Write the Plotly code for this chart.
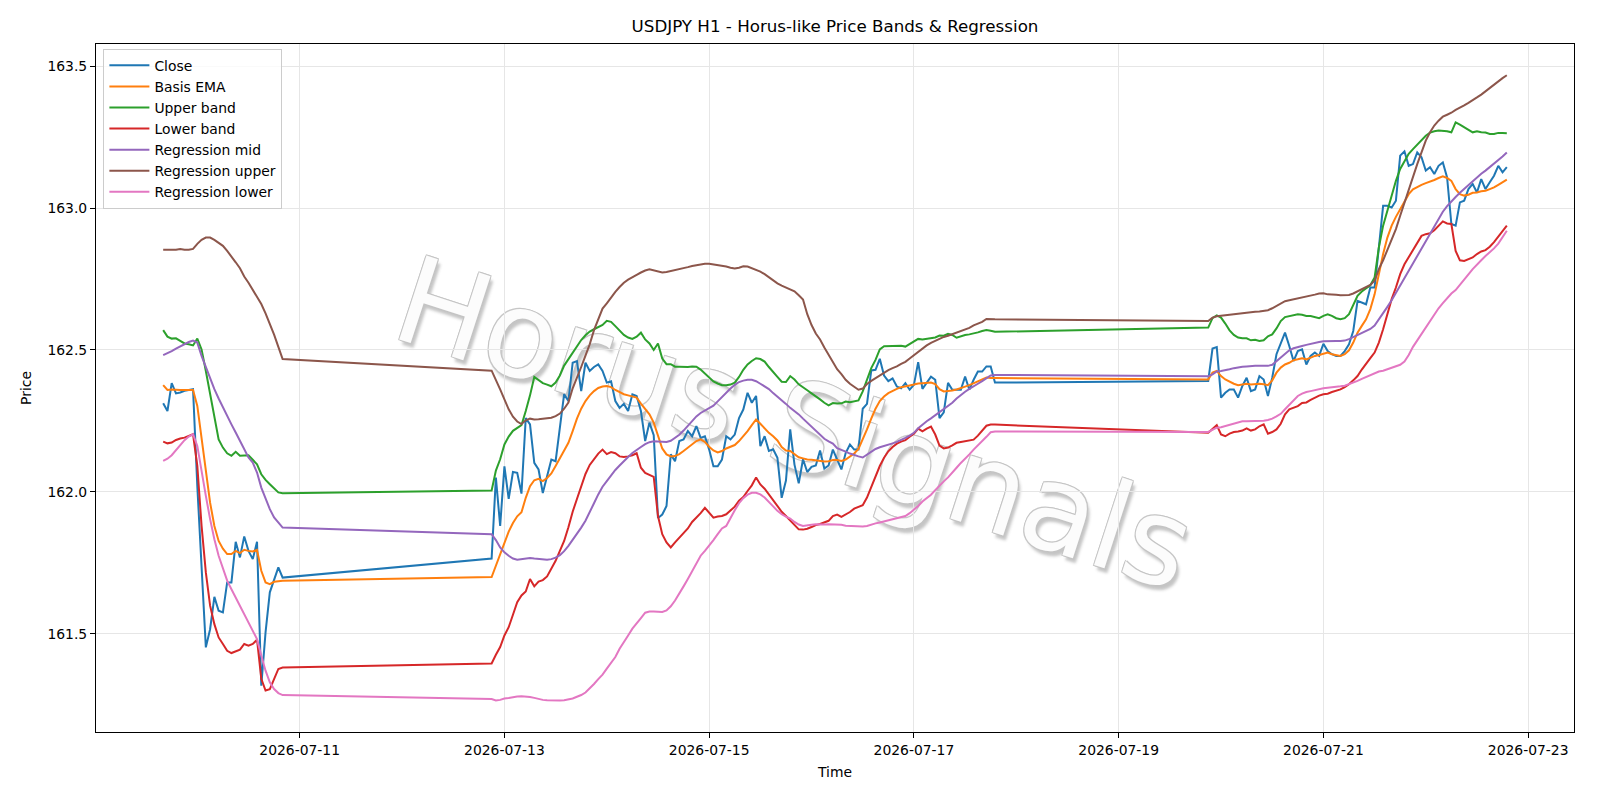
import pandas as pd
import plotly.graph_objects as go

# ---- time axis: three trading segments of hourly bars ----
seg_starts = ["2026-07-09 16:00", "2026-07-12 21:00", "2026-07-19 21:00"]
seg_lengths = [29, 119, 71]

# ---- Close ----
close_a = [162.312, 162.285, 162.383, 162.347, 162.350, 162.356, 162.359, 162.362, 162.020, 161.720,
           161.452, 161.516, 161.630, 161.581, 161.575, 161.681, 161.681, 161.824, 161.769, 161.843,
           161.792, 161.763, 161.824, 161.317, 161.505, 161.646, 161.692, 161.734, 161.698]
close_b = [161.765, 162.050, 161.880, 162.090, 161.975, 162.070, 162.067, 161.994, 162.260, 162.238,
           162.102, 162.079, 161.996, 162.055, 162.114, 162.108, 162.226, 162.344, 162.320, 162.455,
           162.461, 162.355, 162.455, 162.426, 162.440, 162.449, 162.426, 162.385, 162.390, 162.320,
           162.296, 162.310, 162.285, 162.344, 162.338, 162.285, 162.179, 162.244, 162.200, 161.908,
           161.920, 161.950, 162.132, 162.108, 162.179, 162.185, 162.214, 162.196, 162.232, 162.190,
           162.196, 162.149, 162.090, 162.090, 162.114, 162.196, 162.185, 162.202, 162.260, 162.290,
           162.349, 162.314, 162.338, 162.161, 162.196, 162.144, 162.150, 162.120, 161.979, 162.040,
           162.220, 162.096, 162.030, 162.115, 162.070, 162.088, 162.093, 162.146, 162.082, 162.093,
           162.149, 162.116, 162.079, 162.137, 162.167, 162.149, 162.149, 162.293, 162.310, 162.428,
           162.430, 162.469, 162.410, 162.390, 162.400, 162.371, 162.365, 162.383, 162.360, 162.377,
           162.457, 162.363, 162.383, 162.406, 162.395, 162.260, 162.280, 162.384, 162.360, 162.360,
           162.360, 162.406, 162.360, 162.395, 162.424, 162.424, 162.442, 162.442, 162.385]
close_c = [162.391, 162.505, 162.510, 162.332, 162.349, 162.361, 162.361, 162.332, 162.373, 162.402,
           162.355, 162.361, 162.408, 162.396, 162.338, 162.402, 162.485, 162.520, 162.561, 162.514,
           162.461, 162.496, 162.502, 162.449, 162.479, 162.491, 162.479, 162.522, 162.496, 162.485,
           162.479, 162.479, 162.496, 162.520, 162.567, 162.673, 162.667, 162.661, 162.720, 162.720,
           162.861, 163.008, 163.008, 163.002, 163.026, 163.185, 163.200, 163.149, 163.155, 163.196,
           163.179, 163.132, 163.144, 163.120, 163.149, 163.161, 163.108, 162.944, 162.938, 163.020,
           163.026, 163.067, 163.085, 163.055, 163.102, 163.067, 163.091, 163.114, 163.149, 163.126,
           163.144]

# ---- Basis EMA ----
ema_a = [162.376, 162.359, 162.361, 162.359, 162.359, 162.359, 162.360, 162.359, 162.303, 162.185,
         162.068, 161.962, 161.880, 161.827, 161.800, 161.781, 161.781, 161.792, 161.784, 161.796,
         161.792, 161.790, 161.796, 161.722, 161.681, 161.675, 161.683, 161.685, 161.687]
ema_b = [161.700, 161.740, 161.780, 161.820, 161.860, 161.890, 161.914, 161.928, 161.979, 162.020,
         162.041, 162.046, 162.038, 162.049, 162.065, 162.091, 162.120, 162.149, 162.173, 162.214,
         162.258, 162.293, 162.320, 162.340, 162.355, 162.366, 162.371, 162.373, 162.369, 162.359,
         162.352, 162.344, 162.340, 162.336, 162.332, 162.311, 162.294, 162.273, 162.244, 162.202,
         162.153, 162.132, 162.125, 162.126, 162.133, 162.144, 162.155, 162.166, 162.179, 162.185,
         162.176, 162.159, 162.146, 162.139, 162.144, 162.153, 162.158, 162.165, 162.179, 162.195,
         162.214, 162.235, 162.255, 162.240, 162.224, 162.208, 162.196, 162.181, 162.158, 162.146,
         162.144, 162.134, 162.122, 162.118, 162.114, 162.113, 162.111, 162.108, 162.107, 162.108,
         162.112, 162.112, 162.109, 162.114, 162.123, 162.135, 162.151, 162.183, 162.220, 162.258,
         162.293, 162.320, 162.336, 162.348, 162.357, 162.363, 162.369, 162.373, 162.375, 162.378,
         162.382, 162.383, 162.385, 162.385, 162.380, 162.362, 162.354, 162.355, 162.357, 162.361,
         162.365, 162.371, 162.376, 162.383, 162.390, 162.396, 162.403, 162.401, 162.401]
ema_c = [162.396, 162.420, 162.426, 162.408, 162.396, 162.388, 162.381, 162.376, 162.379, 162.381,
         162.378, 162.379, 162.381, 162.379, 162.376, 162.393, 162.420, 162.438, 162.449, 162.455,
         162.464, 162.467, 162.471, 162.467, 162.473, 162.479, 162.482, 162.487, 162.491, 162.485,
         162.481, 162.479, 162.485, 162.499, 162.526, 162.561, 162.585, 162.608, 162.644, 162.696,
         162.767, 162.838, 162.896, 162.938, 162.969, 162.996, 163.026, 163.049, 163.066, 163.075,
         163.082, 163.088, 163.093, 163.099, 163.106, 163.112, 163.106, 163.096, 163.067, 163.049,
         163.044, 163.047, 163.054, 163.055, 163.059, 163.061, 163.067, 163.073, 163.082, 163.091,
         163.100]

# ---- Upper band ----
upper_a = [162.570, 162.547, 162.540, 162.541, 162.532, 162.523, 162.520, 162.516, 162.540, 162.502,
           162.426, 162.344, 162.256, 162.185, 162.156, 162.136, 162.127, 162.141, 162.127, 162.127,
           162.129, 162.113, 162.097, 162.062, 162.042, 162.027, 162.012, 161.998, 161.995]
upper_b = [162.005, 162.075, 162.115, 162.167, 162.195, 162.215, 162.225, 162.235, 162.285, 162.340,
           162.405, 162.395, 162.383, 162.378, 162.372, 162.385, 162.410, 162.445, 162.468, 162.490,
           162.512, 162.535, 162.552, 162.565, 162.573, 162.580, 162.588, 162.603, 162.599, 162.584,
           162.570, 162.553, 162.544, 162.539, 162.547, 162.561, 162.537, 162.523, 162.500, 162.523,
           162.470, 162.450, 162.450, 162.441, 162.441, 162.440, 162.440, 162.442, 162.441, 162.431,
           162.417, 162.402, 162.389, 162.382, 162.376, 162.376, 162.378, 162.385, 162.405, 162.430,
           162.449, 162.461, 162.471, 162.468, 162.459, 162.440, 162.424, 162.405, 162.388, 162.387,
           162.408, 162.396, 162.379, 162.367, 162.358, 162.347, 162.338, 162.326, 162.314, 162.305,
           162.313, 162.311, 162.312, 162.318, 162.316, 162.318, 162.322, 162.354, 162.395, 162.436,
           162.465, 162.502, 162.513, 162.513, 162.514, 162.514, 162.515, 162.512, 162.521, 162.533,
           162.539, 162.537, 162.539, 162.541, 162.544, 162.551, 162.550, 162.557, 162.553, 162.543,
           162.549, 162.553, 162.555, 162.558, 162.562, 162.567, 162.570, 162.568, 162.564]
upper_c = [162.579, 162.612, 162.622, 162.614, 162.593, 162.569, 162.553, 162.544, 162.541, 162.541,
           162.534, 162.536, 162.532, 162.534, 162.548, 162.555, 162.576, 162.602, 162.616, 162.619,
           162.624, 162.626, 162.624, 162.620, 162.620, 162.616, 162.612, 162.620, 162.626, 162.620,
           162.612, 162.608, 162.612, 162.626, 162.661, 162.691, 162.706, 162.718, 162.728, 162.755,
           162.861, 162.938, 162.991, 163.038, 163.096, 163.138, 163.167, 163.191, 163.208, 163.224,
           163.240, 163.255, 163.266, 163.271, 163.273, 163.273, 163.271, 163.267, 163.302, 163.294,
           163.285, 163.273, 163.267, 163.271, 163.267, 163.266, 163.261, 163.261, 163.265, 163.265,
           163.264]

# ---- Lower band ----
lower_a = [162.177, 162.171, 162.174, 162.183, 162.188, 162.191, 162.197, 162.203, 162.092, 161.880,
           161.716, 161.599, 161.534, 161.487, 161.464, 161.440, 161.432, 161.437, 161.444, 161.464,
           161.458, 161.464, 161.479, 161.341, 161.300, 161.305, 161.341, 161.376, 161.381]
lower_b = [161.395, 161.426, 161.453, 161.494, 161.523, 161.567, 161.611, 161.635, 161.649, 161.693,
           161.667, 161.684, 161.689, 161.702, 161.728, 161.757, 161.792, 161.827, 161.875, 161.930,
           161.975, 162.018, 162.063, 162.095, 162.115, 162.135, 162.149, 162.133, 162.140, 162.136,
           162.125, 162.123, 162.125, 162.129, 162.136, 162.085, 162.067, 162.061, 162.053, 161.915,
           161.851, 161.822, 161.804, 161.822, 161.838, 161.857, 161.871, 161.894, 161.909, 161.925,
           161.944, 161.927, 161.909, 161.913, 161.915, 161.921, 161.936, 161.948, 161.969, 161.982,
           162.003, 162.023, 162.051, 162.026, 162.011, 161.990, 161.970, 161.950, 161.930, 161.915,
           161.899, 161.882, 161.868, 161.867, 161.870, 161.876, 161.883, 161.887, 161.892, 161.898,
           161.915, 161.920, 161.912, 161.920, 161.929, 161.941, 161.948, 161.953, 161.980, 162.018,
           162.056, 162.091, 162.120, 162.143, 162.158, 162.170, 162.177, 162.182, 162.194, 162.205,
           162.223, 162.213, 162.223, 162.230, 162.202, 162.163, 162.153, 162.156, 162.164, 162.173,
           162.176, 162.178, 162.180, 162.184, 162.198, 162.216, 162.233, 162.237, 162.237]
lower_c = [162.208, 162.220, 162.235, 162.202, 162.196, 162.205, 162.211, 162.213, 162.216, 162.224,
           162.216, 162.220, 162.231, 162.238, 162.205, 162.211, 162.220, 162.240, 162.273, 162.291,
           162.296, 162.302, 162.313, 162.315, 162.324, 162.332, 162.339, 162.344, 162.346, 162.352,
           162.356, 162.361, 162.369, 162.379, 162.393, 162.408, 162.431, 162.449, 162.471, 162.491,
           162.526, 162.573, 162.626, 162.679, 162.720, 162.767, 162.802, 162.828, 162.855, 162.879,
           162.902, 162.908, 162.911, 162.922, 162.938, 162.953, 162.946, 162.944, 162.849, 162.816,
           162.814, 162.819, 162.826, 162.838, 162.847, 162.852, 162.864, 162.880, 162.899, 162.920,
           162.938]

# ---- Regression mid ----
rmid_a = [162.482, 162.488, 162.496, 162.505, 162.513, 162.521, 162.528, 162.533, 162.526, 162.479,
          162.438, 162.397, 162.362, 162.329, 162.297, 162.268, 162.238, 162.209, 162.180, 162.150,
          162.121, 162.103, 162.068, 162.015, 161.974, 161.939, 161.910, 161.890, 161.874]
rmid_b = [161.851, 161.830, 161.804, 161.787, 161.775, 161.765, 161.761, 161.763, 161.765, 161.767,
          161.765, 161.764, 161.762, 161.761, 161.763, 161.768, 161.777, 161.791, 161.810, 161.831,
          161.851, 161.874, 161.898, 161.927, 161.960, 161.991, 162.018, 162.038, 162.058, 162.077,
          162.093, 162.109, 162.123, 162.137, 162.149, 162.158, 162.168, 162.175, 162.178, 162.177,
          162.175, 162.176, 162.180, 162.189, 162.201, 162.216, 162.233, 162.251, 162.266, 162.278,
          162.287, 162.294, 162.304, 162.319, 162.335, 162.350, 162.364, 162.377, 162.387, 162.392,
          162.395, 162.395, 162.390, 162.381, 162.372, 162.362, 162.348, 162.336, 162.325, 162.310,
          162.296, 162.285, 162.273, 162.258, 162.244, 162.228, 162.214, 162.199, 162.187, 162.178,
          162.170, 162.154, 162.149, 162.142, 162.135, 162.129, 162.125, 162.121, 162.132, 162.142,
          162.151, 162.157, 162.161, 162.165, 162.171, 162.176, 162.182, 162.190, 162.198, 162.208,
          162.224, 162.237, 162.249, 162.259, 162.270, 162.280, 162.292, 162.304, 162.314, 162.329,
          162.342, 162.353, 162.363, 162.371, 162.381, 162.390, 162.399, 162.410, 162.412]
rmid_c = [162.407, 162.414, 162.424, 162.426, 162.428, 162.432, 162.436, 162.439, 162.441, 162.442,
          162.444, 162.444, 162.444, 162.444, 162.444, 162.448, 162.461, 162.476, 162.489, 162.499,
          162.506, 162.511, 162.514, 162.518, 162.522, 162.526, 162.528, 162.531, 162.532, 162.532,
          162.532, 162.532, 162.533, 162.538, 162.545, 162.553, 162.561, 162.567, 162.574, 162.586,
          162.607, 162.629, 162.652, 162.675, 162.701, 162.729, 162.755, 162.781, 162.807, 162.834,
          162.861, 162.887, 162.913, 162.939, 162.965, 162.987, 163.007, 163.024, 163.039, 163.054,
          163.068, 163.082, 163.096, 163.109, 163.121, 163.132, 163.144, 163.155, 163.168, 163.182,
          163.196]

# ---- Regression upper ----
rup_a = [162.853, 162.853, 162.854, 162.853, 162.856, 162.853, 162.853, 162.856, 162.874, 162.888,
         162.896, 162.896, 162.888, 162.878, 162.867, 162.849, 162.831, 162.809, 162.788, 162.759,
         162.737, 162.712, 162.687, 162.662, 162.629, 162.594, 162.554, 162.511, 162.468]
rup_b = [162.427, 162.396, 162.361, 162.326, 162.291, 162.265, 162.248, 162.239, 162.252, 162.258,
         162.255, 162.256, 162.258, 162.258, 162.261, 162.267, 162.276, 162.293, 162.315, 162.365,
         162.400, 162.440, 162.480, 162.520, 162.570, 162.610, 162.646, 162.664, 162.685, 162.705,
         162.722, 162.737, 162.748, 162.758, 162.765, 162.773, 162.780, 162.784, 162.781, 162.776,
         162.773, 162.775, 162.778, 162.782, 162.785, 162.789, 162.792, 162.796, 162.799, 162.802,
         162.804, 162.804, 162.802, 162.799, 162.797, 162.794, 162.790, 162.787, 162.790, 162.795,
         162.794, 162.788, 162.781, 162.776, 162.767, 162.756, 162.744, 162.735, 162.727, 162.720,
         162.713, 162.707, 162.693, 162.678, 162.626, 162.588, 162.558, 162.537, 162.509, 162.482,
         162.456, 162.432, 162.415, 162.395, 162.381, 162.369, 162.360, 162.364, 162.380, 162.391,
         162.401, 162.412, 162.422, 162.429, 162.436, 162.442, 162.451, 162.458, 162.470, 162.482,
         162.493, 162.505, 162.516, 162.525, 162.533, 162.541, 162.546, 162.550, 162.556, 162.561,
         162.567, 162.573, 162.578, 162.587, 162.594, 162.599, 162.609, 162.609, 162.608]
rup_c = [162.602, 162.614, 162.619, 162.620, 162.621, 162.624, 162.626, 162.628, 162.631, 162.632,
         162.634, 162.635, 162.636, 162.638, 162.640, 162.647, 162.655, 162.666, 162.672, 162.675,
         162.678, 162.681, 162.685, 162.688, 162.692, 162.695, 162.699, 162.700, 162.696, 162.696,
         162.695, 162.693, 162.693, 162.694, 162.699, 162.706, 162.713, 162.720, 162.729, 162.744,
         162.785, 162.816, 162.855, 162.891, 162.926, 162.973, 163.020, 163.067, 163.108, 163.155,
         163.196, 163.238, 163.267, 163.291, 163.308, 163.322, 163.329, 163.336, 163.346, 163.353,
         163.362, 163.371, 163.379, 163.390, 163.400, 163.412, 163.424, 163.436, 163.447, 163.458,
         163.468]

# ---- Regression lower ----
rlo_a = [162.109, 162.117, 162.129, 162.148, 162.165, 162.182, 162.195, 162.203, 162.162, 162.068,
         161.986, 161.904, 161.833, 161.775, 161.728, 161.687, 161.657, 161.628, 161.599, 161.569,
         161.540, 161.511, 161.481, 161.423, 161.370, 161.329, 161.305, 161.291, 161.284]
rlo_b = [161.270, 161.265, 161.267, 161.272, 161.274, 161.277, 161.279, 161.280, 161.279, 161.277,
         161.274, 161.270, 161.267, 161.266, 161.265, 161.264, 161.265, 161.266, 161.268, 161.272,
         161.278, 161.284, 161.293, 161.307, 161.323, 161.340, 161.356, 161.377, 161.398, 161.418,
         161.447, 161.473, 161.494, 161.518, 161.535, 161.555, 161.574, 161.578, 161.578, 161.578,
         161.577, 161.582, 161.597, 161.617, 161.640, 161.667, 161.693, 161.722, 161.751, 161.775,
         161.792, 161.810, 161.830, 161.851, 161.871, 161.880, 161.910, 161.935, 161.960, 161.978,
         161.990, 161.997, 161.997, 161.991, 161.980, 161.966, 161.949, 161.933, 161.921, 161.913,
         161.906, 161.894, 161.885, 161.880, 161.881, 161.884, 161.886, 161.885, 161.885, 161.886,
         161.886, 161.885, 161.884, 161.881, 161.880, 161.879, 161.878, 161.878, 161.880, 161.885,
         161.889, 161.892, 161.896, 161.900, 161.904, 161.908, 161.912, 161.915, 161.925, 161.936,
         161.950, 161.966, 161.977, 161.990, 162.006, 162.023, 162.037, 162.051, 162.070, 162.085,
         162.102, 162.116, 162.132, 162.149, 162.163, 162.177, 162.194, 162.210, 162.213]
rlo_c = [162.211, 162.220, 162.226, 162.228, 162.232, 162.235, 162.240, 162.245, 162.249, 162.249,
         162.249, 162.249, 162.249, 162.251, 162.253, 162.258, 162.266, 162.275, 162.291, 162.306,
         162.322, 162.338, 162.346, 162.352, 162.355, 162.359, 162.362, 162.365, 162.367, 162.368,
         162.369, 162.372, 162.374, 162.379, 162.384, 162.391, 162.398, 162.405, 162.412, 162.419,
         162.424, 162.427, 162.432, 162.438, 162.442, 162.448, 162.459, 162.482, 162.511, 162.534,
         162.556, 162.579, 162.602, 162.625, 162.647, 162.665, 162.682, 162.699, 162.711, 162.728,
         162.747, 162.766, 162.785, 162.802, 162.816, 162.831, 162.844, 162.858, 162.875, 162.896,
         162.920]

series_names = ["Close", "Basis EMA", "Upper band", "Lower band",
                "Regression mid", "Regression upper", "Regression lower"]
series_colors = ["#1f77b4", "#ff7f0e", "#2ca02c", "#d62728", "#9467bd", "#8c564b", "#e377c2"]
x_ticks = ["2026-07-11", "2026-07-13", "2026-07-15", "2026-07-17",
           "2026-07-19", "2026-07-21", "2026-07-23"]
y_ticks = [161.5, 162.0, 162.5, 163.0, 163.5]

# ---------------------------------------------------------------
times = []
for s, n in zip(seg_starts, seg_lengths):
    times.extend(pd.date_range(s, periods=n, freq="h"))
times = pd.DatetimeIndex(times)

series_values = [
    close_a + close_b + close_c,
    ema_a + ema_b + ema_c,
    upper_a + upper_b + upper_c,
    lower_a + lower_b + lower_c,
    rmid_a + rmid_b + rmid_c,
    rup_a + rup_b + rup_c,
    rlo_a + rlo_b + rlo_c,
]

FONT = "DejaVu Sans"
fig = go.Figure()
for name, col, vals in zip(series_names, series_colors, series_values):
    fig.add_trace(go.Scatter(x=times, y=vals, mode="lines", name=name,
                             line=dict(color=col, width=2)))

# matplotlib-like 5% margins
t0, t1 = times.min(), times.max()
pad_t = (t1 - t0) * 0.05
allv = [v for vals in series_values for v in vals]
vmin, vmax = min(allv), max(allv)
pad_v = (vmax - vmin) * 0.05

# watermark (behind the lines)
wm_font = dict(family=FONT, size=121, color="rgba(255,255,255,0.95)",
               shadow="-1px -1px 0 #c4c4c4, 1px -1px 0 #c4c4c4, -1px 1px 0 #c4c4c4, 1px 1px 0 #c4c4c4, 4px 4px 3px #c2c2c2")
cx, cy = 0.4745, 0.4600
try:
    fig.add_shape(type="rect", xref="paper", yref="paper",
                  x0=cx - 0.1, x1=cx + 0.1, y0=cy - 0.05, y1=cy + 0.05,
                  line=dict(width=0), fillcolor="rgba(0,0,0,0)", layer="below",
                  label=dict(text="Horus Signals", font=wm_font, textangle=18,
                             textposition="middle center"))
except Exception:
    fig.add_annotation(text="Horus Signals", xref="paper", yref="paper",
                       x=cx, y=cy, showarrow=False, textangle=18,
                       font=wm_font)

fig.update_layout(
    width=1600, height=800,
    paper_bgcolor="white", plot_bgcolor="white",
    margin=dict(l=96, r=26, t=44, b=68),
    font=dict(family=FONT, size=13.9, color="black"),
    title=dict(text="USDJPY H1 - Horus-like Price Bands & Regression",
               x=0.5, xref="paper", y=1 - 26 / 800, yref="container",
               xanchor="center", yanchor="middle",
               font=dict(family=FONT, size=16.7, color="black")),
    showlegend=True,
    legend=dict(x=0.005, y=0.993, xanchor="left", yanchor="top",
                bgcolor="rgba(255,255,255,0.8)", bordercolor="#cccccc", borderwidth=1,
                font=dict(family=FONT, size=13.9, color="black"),
                itemwidth=40, tracegroupgap=0),
)
fig.update_xaxes(
    range=[t0 - pad_t, t1 + pad_t], type="date",
    tickvals=pd.to_datetime(x_ticks), ticktext=x_ticks,
    showgrid=True, gridcolor="#e6e6e6", gridwidth=1,
    showline=True, linecolor="black", linewidth=1.1, mirror=True,
    ticks="outside", ticklen=5, tickwidth=1.1, tickcolor="black",
    tickfont=dict(family=FONT, size=13.9, color="black"),
    title=dict(text="Time", standoff=10, font=dict(family=FONT, size=13.9, color="black")),
    zeroline=False,
)
fig.update_yaxes(
    range=[vmin - pad_v, vmax + pad_v],
    tickvals=y_ticks, ticktext=[f"{v:.1f}" for v in y_ticks],
    showgrid=True, gridcolor="#e6e6e6", gridwidth=1,
    showline=True, linecolor="black", linewidth=1.1, mirror=True,
    ticks="outside", ticklen=5, tickwidth=1.1, tickcolor="black",
    tickfont=dict(family=FONT, size=13.9, color="black"),
    title=dict(text="Price", standoff=12, font=dict(family=FONT, size=13.9, color="black")),
    zeroline=False,
)

fig.write_html("out.html")
